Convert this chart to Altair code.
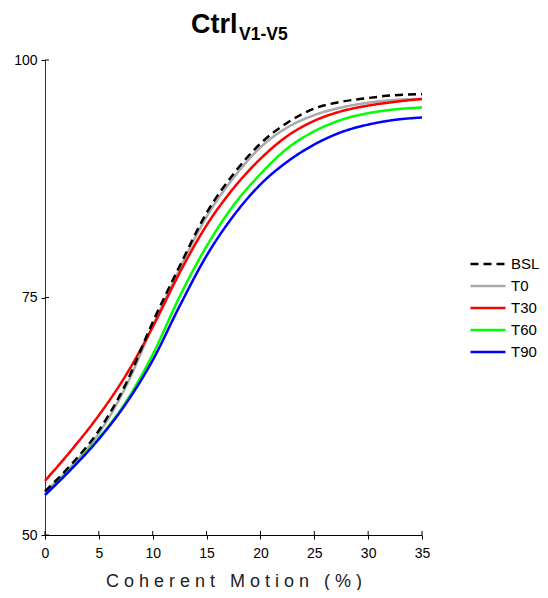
import altair as alt
import pandas as pd

x_vals = [0, 2.5, 5, 7.5, 10, 12.5, 15, 17.5, 20, 22.5, 25, 27.5, 30, 32.5, 35]
bsl = [54.6, 57.5, 61.0, 65.9, 72.4, 78.3, 83.9, 88.0, 91.2, 93.4, 94.9, 95.6, 96.0, 96.3, 96.4]
t0 = [54.5, 57.3, 60.7, 65.6, 72.0, 78.0, 83.5, 87.6, 90.8, 92.9, 94.2, 95.0, 95.5, 95.8, 95.9]
t30 = [55.7, 59.0, 62.6, 66.8, 71.9, 77.6, 82.6, 86.5, 89.6, 92.0, 93.6, 94.6, 95.2, 95.6, 95.9]
t60 = [54.3, 57.1, 60.2, 64.0, 69.0, 75.1, 80.4, 84.7, 88.0, 90.7, 92.5, 93.7, 94.4, 94.8, 95.0]
t90 = [54.2, 57.0, 60.1, 63.8, 68.4, 74.1, 79.4, 83.6, 86.9, 89.3, 91.1, 92.4, 93.2, 93.7, 93.95]

series_names = ["BSL", "T0", "T30", "T60", "T90"]
series_colors = ["#000000", "#aaaaaa", "#ff0000", "#00ff00", "#0000ff"]
series_dash = [[8, 5], [1, 0], [1, 0], [1, 0], [1, 0]]

x_ticks = [0, 5, 10, 15, 20, 25, 30, 35]
y_ticks = [50, 75, 100]

FONT = "Liberation Sans"
W, H = 377, 475

draw_order = [("T0", t0), ("T30", t30), ("T60", t60), ("T90", t90), ("BSL", bsl)]
rows = []
for name, vals in draw_order:
    for xv, yv in zip(x_vals, vals):
        rows.append({"x": xv, "y": yv, "series": name})
df = pd.DataFrame(rows)

xscale = alt.Scale(domain=[0, 35], nice=False, zero=False)
yscale = alt.Scale(domain=[50, 100], nice=False, zero=False)

legend = alt.Legend(
    title=None, orient="none", legendX=429.5, legendY=190.5,
    symbolType="M-1.46,0L1.46,0", symbolSize=576, symbolStrokeWidth=2.5,
    labelFontSize=15, labelFont=FONT, labelColor="#000000", labelOffset=9.5,
    rowPadding=0, padding=0,
)

lines = alt.Chart(df).mark_line(strokeWidth=2.5, interpolate="monotone").encode(
    x=alt.X("x:Q", scale=xscale, axis=alt.Axis(
        values=x_ticks, title="C\u00a0o\u00a0h\u00a0e\u00a0r\u00a0e\u00a0n\u00a0t\u00a0\u00a0\u00a0M\u00a0o\u00a0t\u00a0i\u00a0o\u00a0n\u00a0\u00a0\u00a0(\u00a0%\u00a0)",
        grid=False, tickSize=4, labelPadding=7, labelFontSize=14, labelFont=FONT,
        labelColor="#000000", titleFont=FONT, titleFontSize=18, titleFontWeight="normal",
        titleColor="#222222", titlePadding=12, domainColor="#000000", tickColor="#000000",
        labelFlush=False)),
    y=alt.Y("y:Q", scale=yscale, axis=alt.Axis(
        values=y_ticks, title=None, grid=False, tickSize=4, labelPadding=4,
        labelFontSize=14, labelFont=FONT, labelColor="#000000",
        domainColor="#333333", tickColor="#000000")),
    color=alt.Color("series:N", scale=alt.Scale(domain=series_names, range=series_colors), legend=legend),
    strokeDash=alt.StrokeDash("series:N", scale=alt.Scale(domain=series_names, range=series_dash), legend=legend),
)

xt = alt.Chart(pd.DataFrame({"t": x_ticks})).mark_rule(color="#000000", strokeWidth=1).encode(
    x=alt.X("t:Q", scale=xscale), y=alt.value(H - 4), y2=alt.value(H))
yt = alt.Chart(pd.DataFrame({"t": y_ticks})).mark_rule(color="#000000", strokeWidth=1).encode(
    y=alt.Y("t:Q", scale=yscale), x=alt.value(0), x2=alt.value(4))

title_main = alt.Chart(pd.DataFrame({"s": ["Ctrl"]})).mark_text(
    font=FONT, fontSize=27, fontWeight="bold", align="left", baseline="alphabetic", color="#000000"
).encode(text="s:N", x=alt.value(146), y=alt.value(-27))
title_sub = alt.Chart(pd.DataFrame({"s": ["V1-V5"]})).mark_text(
    font=FONT, fontSize=17.5, fontWeight="bold", align="left", baseline="alphabetic", color="#000000"
).encode(text="s:N", x=alt.value(194), y=alt.value(-20))

chart = alt.layer(xt, yt, lines, title_main, title_sub).properties(
    width=W, height=H,
    autosize=alt.AutoSizeParams(type="none"),
    padding={"left": 37, "top": 52, "right": 118, "bottom": 55},
).configure_view(stroke=None).configure_axis(domainWidth=1)

chart.save("out.html", embed_options={"renderer": "svg", "actions": False})
